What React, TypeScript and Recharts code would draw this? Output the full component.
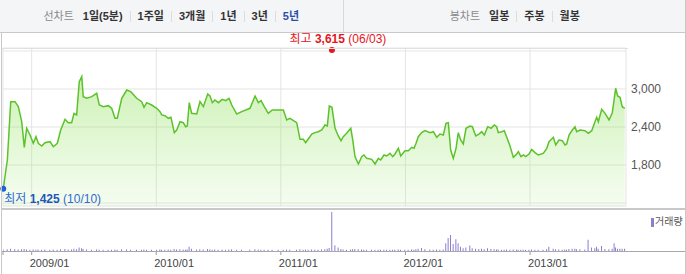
import { ComposedChart, Area, Bar, XAxis, YAxis, CartesianGrid, ReferenceDot } from 'recharts';

// [year (decimal), close, volume]
type Row = [number, number, number];

const q2008: Row[] = [
  [2008.772, 1425, 40], [2008.805, 1879, 45], [2008.832, 2800, 60], [2008.866, 2800, 45],
  [2008.893, 2721, 40], [2008.92, 2484, 45], [2008.941, 2079, 50], [2008.96, 2380, 40],
  [2008.987, 2274, 35],
];

const q2009: Row[] = [
  [2009.013, 2143, 40], [2009.035, 2247, 35], [2009.053, 2143, 40], [2009.081, 2100, 35],
  [2009.107, 2153, 40], [2009.147, 2168, 35], [2009.174, 2089, 40], [2009.206, 2143, 35],
  [2009.233, 2353, 45], [2009.268, 2521, 50], [2009.294, 2468, 40], [2009.321, 2468, 40],
  [2009.34, 2616, 55], [2009.361, 2590, 45], [2009.382, 3116, 90], [2009.402, 3195, 70],
  [2009.414, 2879, 50], [2009.442, 2853, 40], [2009.482, 2879, 35], [2009.522, 2932, 40],
  [2009.543, 2747, 35], [2009.575, 2721, 35], [2009.615, 2737, 30], [2009.642, 2695, 35],
  [2009.669, 2537, 40], [2009.687, 2537, 35], [2009.723, 2853, 45], [2009.763, 2984, 40],
  [2009.795, 2958, 35], [2009.843, 2853, 30], [2009.883, 2800, 35], [2009.902, 2711, 40],
  [2009.923, 2784, 35], [2009.963, 2747, 30],
];

const q2010: Row[] = [
  [2010.004, 2695, 35], [2010.03, 2642, 40], [2010.044, 2590, 35], [2010.07, 2579, 35],
  [2010.097, 2537, 40], [2010.118, 2553, 35], [2010.145, 2311, 50], [2010.164, 2353, 40],
  [2010.191, 2484, 45], [2010.217, 2468, 40], [2010.236, 2405, 35], [2010.249, 2416, 40],
  [2010.265, 2784, 110], [2010.284, 2616, 60], [2010.325, 2605, 40], [2010.351, 2800, 45],
  [2010.378, 2721, 40], [2010.413, 2921, 50], [2010.431, 2889, 40], [2010.45, 2784, 35],
  [2010.471, 2826, 40], [2010.498, 2784, 35], [2010.53, 2837, 40], [2010.557, 2816, 35],
  [2010.584, 2853, 40], [2010.606, 2747, 45], [2010.646, 2605, 35], [2010.686, 2642, 30],
  [2010.752, 2695, 35], [2010.793, 2889, 45], [2010.819, 2784, 40], [2010.841, 2816, 35],
  [2010.867, 2721, 35], [2010.899, 2616, 30], [2010.931, 2668, 35], [2010.98, 2668, 30],
];

const q2011: Row[] = [
  [2011.02, 2668, 35], [2011.047, 2511, 40], [2011.073, 2537, 35], [2011.127, 2468, 35],
  [2011.154, 2205, 45], [2011.18, 2205, 35], [2011.199, 2153, 40], [2011.22, 2211, 35],
  [2011.248, 2289, 40], [2011.274, 2311, 35], [2011.3, 2326, 35], [2011.328, 2353, 40],
  [2011.354, 2432, 45], [2011.373, 2416, 60], [2011.389, 2732, 80], [2011.41, 2711, 1000],
  [2011.435, 2380, 150], [2011.461, 2258, 90], [2011.483, 2184, 50], [2011.501, 2247, 40],
  [2011.528, 2300, 35], [2011.561, 2380, 40], [2011.577, 2195, 45], [2011.595, 1932, 50],
  [2011.622, 1816, 45], [2011.649, 1932, 40], [2011.667, 1958, 35], [2011.689, 1905, 35],
  [2011.729, 1890, 30], [2011.756, 1816, 35], [2011.782, 1905, 35], [2011.801, 1879, 30],
  [2011.828, 1958, 35], [2011.85, 1942, 30], [2011.876, 1984, 35], [2011.898, 1932, 30],
  [2011.916, 1974, 35], [2011.943, 2063, 40], [2011.962, 1942, 35], [2011.996, 2026, 35],
];

const q2012: Row[] = [
  [2012.023, 2026, 35], [2012.05, 2079, 40], [2012.069, 2063, 35], [2012.085, 2143, 45],
  [2012.103, 2247, 55], [2012.13, 2311, 80], [2012.157, 2342, 45], [2012.197, 2311, 40],
  [2012.224, 2326, 35], [2012.251, 2237, 40], [2012.277, 2289, 35], [2012.304, 2274, 40],
  [2012.325, 2458, 200], [2012.344, 2468, 330], [2012.363, 2037, 410], [2012.384, 1905, 180],
  [2012.406, 2063, 300], [2012.424, 2311, 200], [2012.443, 2195, 110], [2012.464, 2132, 70],
  [2012.486, 2380, 90], [2012.518, 2416, 140], [2012.537, 2405, 70], [2012.564, 2258, 60],
  [2012.59, 2289, 50], [2012.612, 2326, 55], [2012.633, 2274, 45], [2012.66, 2405, 70],
  [2012.687, 2380, 50], [2012.713, 2432, 45], [2012.732, 2405, 40], [2012.745, 2311, 40],
  [2012.772, 2326, 35], [2012.793, 2342, 35], [2012.813, 2237, 40], [2012.839, 2100, 35],
  [2012.866, 1921, 40], [2012.893, 1974, 35], [2012.906, 2010, 30], [2012.927, 1932, 35],
  [2012.946, 1958, 30], [2012.965, 1932, 30], [2012.992, 1974, 35],
];

const q2013: Row[] = [
  [2013.013, 2047, 40], [2013.04, 1995, 35], [2013.066, 1958, 30], [2013.106, 1984, 35],
  [2013.134, 2063, 45], [2013.152, 2168, 110], [2013.187, 2237, 60], [2013.206, 2116, 45],
  [2013.232, 2195, 40], [2013.259, 2184, 35], [2013.28, 2116, 40], [2013.294, 2132, 35],
  [2013.313, 2274, 50], [2013.339, 2353, 55], [2013.361, 2405, 60], [2013.374, 2326, 45],
  [2013.401, 2353, 45], [2013.441, 2342, 40], [2013.467, 2300, 290], [2013.495, 2342, 90],
  [2013.521, 2484, 70], [2013.535, 2553, 110], [2013.548, 2484, 60], [2013.575, 2679, 130],
  [2013.602, 2616, 50], [2013.634, 2511, 45], [2013.66, 2626, 60], [2013.676, 2853, 200],
  [2013.687, 3011, 90], [2013.703, 2889, 60], [2013.722, 2868, 60], [2013.74, 2721, 55],
  [2013.76, 2695, 60],
];

const lineTabs = ['1일(5분)', '1주일', '3개월', '1년', '3년', '5년'];
const candleTabs = ['일봉', '주봉', '월봉'];
const yearTicks = [2009, 2010, 2011, 2012, 2013];
const volumeTicks = [2008.77, 2009, 2010, 2011, 2012, 2013];
const priceTicks = [1200, 1800, 2400, 3000, 3600];
const labelledPrices = [1800, 2400, 3000];
const high = { t: 2011.41, price: 3615, date: '06/03' };
const low = { t: 2008.772, price: 1425, date: '10/10' };
const xDomain: [number, number] = [2008.77, 2013.77];

const quotes = [...q2008, ...q2009, ...q2010, ...q2011, ...q2012, ...q2013].map(([t, close, vol]) => ({
  t,
  close,
  vol,
}));

const FONT = "'Liberation Sans', Arial, 'Noto Sans CJK KR', sans-serif";

function Tabs({ title, items, active }: { title: string; items: string[]; active?: string }) {
  return (
    <div style={{ flex: 1, display: 'flex', justifyContent: 'center', alignItems: 'center' }}>
      <span style={{ color: '#8a8a8a', marginRight: 9 }}>{title}</span>
      {items.map((it, i) => (
        <span key={it} style={{ display: 'flex', alignItems: 'center' }}>
          {i > 0 && <span style={{ width: 1, height: 11, background: '#dcdcdc', margin: '0 7px' }} />}
          <span style={{ color: it === active ? '#2b4fa8' : '#333', fontWeight: 700 }}>{it}</span>
        </span>
      ))}
    </div>
  );
}

function YearTick({ x, y, payload }: any) {
  const label = payload.value >= 2009 ? `${payload.value}/01` : '';
  return (
    <g>
      <line x1={x} y1={y} x2={x} y2={y + 4} stroke="#999" />
      {label && (
        <text x={x - 2} y={y + 16} fontSize={11} fill="#444" fontFamily={FONT}>
          {label}
        </text>
      )}
    </g>
  );
}

function HighMark({ cx, cy }: any) {
  return (
    <g>
      <circle cx={cx} cy={cy} r={3} fill="#e8161c" />
      <text x={cx + 6} y={cy - 7} textAnchor="middle" fontSize={12} fill="#e8161c" fontFamily={FONT}>
        최고 <tspan fontWeight={700}>{high.price.toLocaleString('en-US')}</tspan> ({high.date})
      </text>
    </g>
  );
}

function LowMark({ cx, cy }: any) {
  return (
    <g>
      <circle cx={cx} cy={cy} r={3} fill="#1f63d6" />
      <text x={cx + 1} y={cy + 14} fontSize={12} fill="#2f6bd0" fontFamily={FONT}>
        최저 <tspan fontWeight={700} fill="#1d57bb">{low.price.toLocaleString('en-US')}</tspan> ({low.date})
      </text>
    </g>
  );
}

export default function App() {
  return (
    <div style={{ position: 'absolute', left: 0, top: 0, width: 686, height: 274, background: '#fff', fontFamily: FONT, fontSize: 12 }}>
      {/* tab bar */}
      <div
        style={{
          position: 'absolute', left: 0, top: 0, width: 686, height: 32, fontSize: 11,
          background: '#f4f5f7', borderBottom: '1px solid #c9c9c9', display: 'flex', lineHeight: '31px',
        }}
      >
        <Tabs title="선차트" items={lineTabs} active="5년" />
        <div style={{ width: 1, height: 32, background: '#d9d9d9' }} />
        <Tabs title="봉차트" items={candleTabs} />
      </div>

      {/* price */}
      <div style={{ position: 'absolute', left: 0, top: 33 }}>
        <ComposedChart width={686} height={175} data={quotes} margin={{ top: 15, right: 0, bottom: 2, left: 3 }}>
          <defs>
            <linearGradient id="priceFill" x1="0" y1="0" x2="0" y2="1">
              <stop offset="0%" stopColor="#86de4e" stopOpacity={0.7} />
              <stop offset="100%" stopColor="#a6ea7c" stopOpacity={0.2} />
            </linearGradient>
          </defs>
          <CartesianGrid stroke="#e4e4e4" />
          <XAxis dataKey="t" type="number" domain={xDomain} ticks={yearTicks} hide allowDataOverflow />
          <YAxis
            orientation="right"
            width={60}
            domain={[1153, 3647]}
            ticks={priceTicks}
            allowDataOverflow
            axisLine={false}
            tickLine={false}
            tickSize={0}
            tickMargin={5}
            tick={{ fontSize: 12, fill: '#555', fontFamily: FONT }}
            tickFormatter={(v: number) => (labelledPrices.includes(v) ? v.toLocaleString('en-US') : '')}
          />
          <Area
            type="linear"
            dataKey="close"
            stroke="#5cc22a"
            strokeWidth={1.5}
            fill="url(#priceFill)"
            dot={false}
            activeDot={false}
            isAnimationActive={false}
          />
          <ReferenceDot x={high.t} y={high.price} ifOverflow="visible" shape={HighMark} />
          <ReferenceDot x={low.t} y={low.price} ifOverflow="visible" shape={LowMark} />
        </ComposedChart>
      </div>

      {/* volume */}
      <div style={{ position: 'absolute', left: 0, top: 208 }}>
        <ComposedChart width={686} height={66} data={quotes} margin={{ top: 2, right: 60, bottom: 0, left: 3 }}>
          <XAxis
            dataKey="t"
            type="number"
            domain={xDomain}
            ticks={volumeTicks}
            allowDataOverflow
            axisLine={false}
            tickLine={false}
            tickSize={0}
            tickMargin={0}
            height={23}
            interval={0}
            tick={<YearTick />}
          />
          <YAxis hide domain={[0, 1050]} />
          <Bar dataKey="vol" fill="#8c7dd3" barSize={1} isAnimationActive={false} />
        </ComposedChart>
      </div>

      {/* frame lines */}
      <div style={{ position: 'absolute', left: 2, top: 48, width: 626, height: 1, background: '#e0e0e0' }} />
      <div style={{ position: 'absolute', left: 2, top: 208, width: 684, height: 2, background: '#c8c8c8' }} />
      <div style={{ position: 'absolute', left: 2, top: 251, width: 684, height: 1, background: '#a8a8a8' }} />
      <div style={{ position: 'absolute', left: 1, top: 33, width: 1, height: 241, background: '#c8c8c8' }} />
      <div style={{ position: 'absolute', left: 685, top: 0, width: 1, height: 274, background: '#c8c8c8' }} />

      {/* volume legend */}
      <div style={{ position: 'absolute', left: 651, top: 218, width: 3, height: 9, background: '#8c7dd3' }} />
      <div style={{ position: 'absolute', left: 655, top: 215, fontSize: 10, color: '#555', lineHeight: '14px' }}>거래량</div>
    </div>
  );
}
